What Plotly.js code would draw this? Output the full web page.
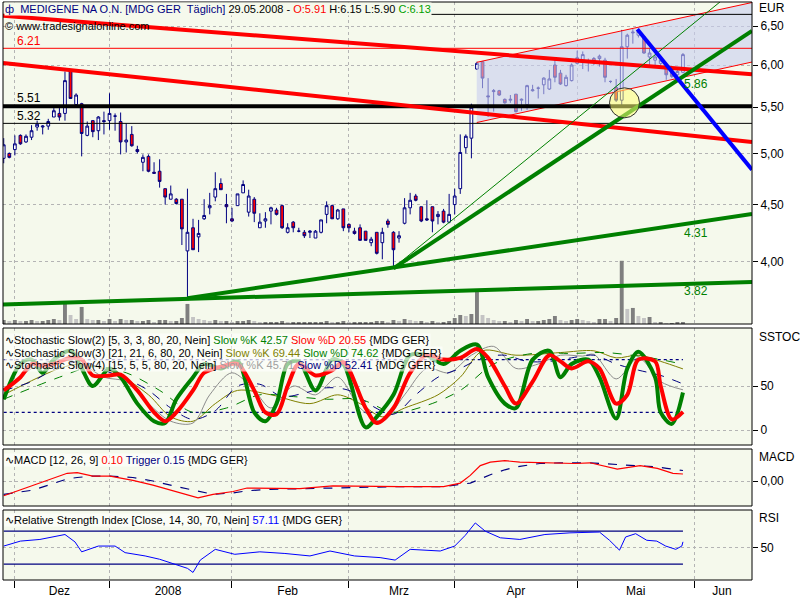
<!DOCTYPE html>
<html><head><meta charset="utf-8">
<script src="https://cdn.plot.ly/plotly-3.0.1.min.js"></script>
<style>html,body{margin:0;padding:0;background:#fff}#chart{width:800px;height:600px}</style>
</head><body><div id="chart"></div>
<script>
// ---------- price data (daily, 29.11.2007 .. 29.05.2008), index = trading day ----------
const open  = [4.95,5.00,5.04,5.19,5.12,5.17,5.28,5.28,5.29,5.39,5.43,5.43,5.93,5.53,5.54,5.19,5.35,5.24,5.35,5.35,5.40,5.34,5.12,5.20,5.04,4.91,4.97,4.81,4.82,4.65,4.55,4.55,4.55,4.09,4.29,4.21,4.37,4.47,4.57,4.70,4.50,4.37,4.49,4.61,4.43,4.55,4.29,4.35,4.44,4.45,4.49,4.25,4.34,4.26,4.25,4.25,4.20,4.25,4.41,4.49,4.37,4.46,4.32,4.26,4.29,4.26,4.16,4.25,4.16,4.35,4.25,4.20,4.33,4.47,4.58,4.48,4.37,4.48,4.39,4.44,4.34,4.50,4.65,5.06,5.16,5.95,6.04,5.63,5.68,5.69,5.59,5.58,5.65,5.58,5.53,5.69,5.72,5.76,5.71,6.00,5.90,5.75,5.81,6.02,6.06,6.05,6.08,6.08,6.06,5.80,5.73,5.58,6.23,6.41,6.38,6.36,6.10,6.06,6.02,5.98,5.92,5.88,5.91];
const high  = [5.16,5.01,5.19,5.20,5.20,5.30,5.35,5.30,5.37,5.49,5.49,5.92,5.95,5.66,5.55,5.34,5.35,5.40,5.45,5.66,5.43,5.44,5.32,5.29,5.08,4.99,4.99,4.91,4.94,4.65,4.68,4.56,4.55,4.65,4.37,4.36,4.55,4.61,4.81,4.75,4.60,4.47,4.60,4.73,4.64,4.57,4.42,4.43,4.48,4.47,4.50,4.33,4.35,4.29,4.27,4.27,4.27,4.36,4.53,4.50,4.46,4.46,4.33,4.29,4.32,4.26,4.21,4.25,4.29,4.37,4.26,4.26,4.56,4.61,4.60,4.48,4.54,4.48,4.44,4.46,4.60,4.65,5.20,5.20,5.54,6.04,6.05,5.84,5.71,5.70,5.60,5.64,5.65,5.60,5.76,5.76,5.74,5.85,5.94,6.08,5.94,5.88,6.02,6.18,6.17,6.08,6.10,6.13,6.09,5.81,5.83,6.45,6.40,6.46,6.46,6.37,6.21,6.13,6.10,6.00,5.94,5.94,6.15];
const low   = [4.90,4.95,4.98,5.09,5.11,5.14,5.24,5.20,5.25,5.39,5.35,5.35,5.60,5.51,4.97,5.18,5.17,5.14,5.20,5.25,5.24,4.99,5.01,5.07,5.00,4.82,4.81,4.80,4.66,4.50,4.55,4.50,4.14,3.71,4.10,4.08,4.36,4.41,4.53,4.64,4.33,4.34,4.49,4.61,4.39,4.34,4.29,4.29,4.32,4.40,4.28,4.24,4.25,4.25,4.20,4.20,4.20,4.24,4.33,4.37,4.36,4.26,4.25,4.23,4.18,4.18,4.13,4.06,4.02,4.29,3.95,4.16,4.32,4.41,4.53,4.34,4.35,4.25,4.32,4.33,4.33,4.41,4.60,5.00,4.95,5.94,5.72,5.39,5.45,5.63,5.54,5.55,5.44,5.46,5.47,5.68,5.60,5.65,5.70,5.79,5.76,5.74,5.80,6.01,5.95,5.92,6.00,5.98,5.79,5.78,5.56,5.51,6.08,6.27,6.35,6.14,6.00,6.00,5.99,5.82,5.84,5.85,5.90];
const close = [5.09,4.96,5.10,5.10,5.18,5.24,5.31,5.29,5.34,5.46,5.39,5.81,5.60,5.64,5.21,5.29,5.23,5.39,5.34,5.43,5.40,5.12,5.14,5.08,5.02,4.96,4.82,4.80,4.72,4.57,4.60,4.51,4.28,4.25,4.10,4.24,4.40,4.49,4.65,4.64,4.48,4.35,4.60,4.69,4.58,4.42,4.34,4.37,4.47,4.41,4.29,4.29,4.29,4.26,4.22,4.26,4.26,4.36,4.49,4.37,4.45,4.29,4.29,4.24,4.18,4.18,4.19,4.07,4.25,4.32,4.10,4.22,4.47,4.54,4.54,4.35,4.36,4.35,4.41,4.34,4.41,4.58,5.01,5.18,5.50,6.02,5.84,5.62,5.69,5.64,5.55,5.59,5.45,5.59,5.75,5.70,5.72,5.84,5.83,5.85,5.77,5.85,6.00,6.09,6.13,6.05,6.04,6.11,5.85,5.80,5.58,6.23,6.38,6.42,6.43,6.15,6.15,6.10,6.06,5.88,5.86,5.92,6.13];
// volume, thousand shares
const volume = [12,9,12,9,9,12,9,9,12,15,12,63,27,15,51,15,12,12,9,15,9,15,12,12,9,9,12,6,12,12,9,9,18,60,21,15,12,9,12,9,9,6,9,9,12,9,6,6,6,6,9,6,6,6,6,6,6,6,9,6,6,9,6,6,6,6,6,9,9,6,12,9,15,12,9,9,6,9,6,6,9,18,27,24,30,102,27,18,12,9,9,6,12,9,15,9,9,12,15,24,12,9,12,15,12,9,6,15,15,9,18,189,45,48,24,18,21,6,6,3,3,6,6];

// ---------- axis categories ----------
const monthStartIdx = [2, 19, 41, 62, 81, 103, 124];
const monthLabelIdx = [10, 29.5, 51, 71, 92, 113.5, 129];
const monthLabels   = ['Dez', '2008', 'Feb', 'Mrz', 'Apr', 'Mai', 'Jun'];
const priceTicks    = [4.0, 4.5, 5.0, 5.5, 6.0, 6.5];
const priceTickText = ['4,00', '4,50', '5,00', '5,50', '6,00', '6,50'];

// ---------- drawing tools (trading-day index, EUR) ----------
const hLevelPrices = [6.66, 6.21, 5.51, 5.32];
const redA_x = [-0.13, 134.4],  redA_y = [6.642, 5.886];
const redB_x = [-0.13, 134.4],  redB_y = [6.025, 5.120];
const chanLow_x = [84.96, 134.4], chanLow_y = [5.329, 6.037];
const chanUp_x  = [84.96, 134.4], chanUp_y  = [6.033, 6.825];
const green1_x = [-0.13, 134.4], green1_y = [3.663, 3.836];
const green2_x = [33, 134.4],    green2_y = [3.71, 4.413];
const green3_x = [70, 134.4],    green3_y = [3.946, 6.436];
const green4_x = [70, 134.4],    green4_y = [3.95, 7.21];
const blue_x   = [113.8, 134.4], blue_y   = [6.458, 4.835];
const lineLabelVals = [5.86, 4.31, 3.82];
const circleIdx = [111.5], circlePrice = [5.55];

// ---------- indicators ----------
const st2K_x = [0,3,5,7,9,12,14,16,19,21,24,27,29,31,34,36,39,42,45,47,49,51,53,56,59,61,65,67,70,73,76,79,82,85,87,90,92,95,98,100,102,105,107,110,112,114,117,118,120,122];
const st2K   = [35,75,80,65,80,90,70,50,70,60,30,10,8,35,60,75,70,78,20,10,30,75,78,45,80,75,3,15,40,85,85,75,90,97,60,30,25,80,90,60,75,80,60,13,70,89,60,20,7,42.57];
const st2D_x = [0,3,5,7,9,12,14,16,19,21,24,27,29,31,34,36,39,42,45,47,49,51,53,56,59,61,65,67,70,73,76,79,82,85,87,90,92,95,98,100,102,105,107,110,112,114,117,118,120,122];
const st2D   = [45,60,75,73,75,82,80,62,62,63,45,20,10,20,45,65,72,75,45,20,18,50,75,62,68,77,25,8,25,65,85,80,82,92,82,50,30,55,85,78,70,78,70,30,40,80,78,50,12,20.55];
const st3K_x = [0,10,14,20,26,30,34,38,42,48,55,60,64,68,72,78,82,86,92,100,106,110,114,118,122];
const st3K   = [40,70,75,65,40,15,10,30,45,40,30,40,30,15,25,40,60,90,85,88,90,82,85,78,69.44];
const st3D_x = [0,10,16,22,28,34,40,46,52,58,64,70,76,82,88,95,102,108,114,118,122];
const st3D   = [35,60,72,65,45,20,25,40,38,35,35,20,28,45,75,87,87,88,84,80,74.62];
const st4K_x = [0,5,10,14,18,22,26,30,34,37,41,45,48,52,56,60,64,68,72,76,80,84,88,92,96,100,104,106,110,114,118,122];
const st4K   = [40,70,80,75,60,55,30,10,8,40,65,45,25,50,40,60,25,10,40,70,65,85,95,70,75,85,84,86,58,82,55,45.71];
const st4D_x = [0,5,10,14,18,22,26,30,34,38,42,46,50,54,58,62,66,70,74,78,82,86,90,94,98,102,106,110,114,118,122];
const st4D   = [45,55,72,78,68,58,45,25,12,22,50,52,38,42,48,45,28,18,40,60,70,82,85,78,78,82,85,75,68,62,52.41];
const stLevels = [80, 20];

const macd_x = [0,5.3,11.4,13.2,16,19.1,23.2,26.8,31.1,34.9,37.6,41.2,43.7,47.3,53.2,59.1,65.3,71.2,79,82,83.8,85.6,87.4,90,92.7,96.3,99.9,102.6,105.3,110.2,114.3,117.4,120.2,122];
const macd   = [-0.21,-0.06,0.11,0.12,0.07,0.07,0.01,-0.06,-0.16,-0.24,-0.19,-0.15,-0.10,-0.10,-0.11,-0.07,-0.08,-0.08,-0.08,-0.03,0.08,0.22,0.27,0.29,0.27,0.26,0.26,0.25,0.26,0.17,0.22,0.18,0.11,0.10];
const trig_x = [0,5.3,11.4,13.2,16,19.1,23.2,26.8,31.1,34.9,37.6,41.2,43.7,47.3,53.2,59.1,65.3,71.2,79,83.8,85.6,87.4,90,92.7,96.3,99.9,105.3,111.2,114.3,117.4,119.1,122];
const trig   = [-0.19,-0.13,0.03,0.05,0.07,0.07,0.05,0.00,-0.08,-0.15,-0.19,-0.17,-0.14,-0.12,-0.11,-0.09,-0.08,-0.08,-0.08,-0.03,0.03,0.09,0.16,0.21,0.25,0.26,0.26,0.23,0.22,0.20,0.18,0.15];

const rsi_x = [0,3,6.5,11,12.8,14,17,20,21.8,25.4,28,31.7,33,34,35.3,38,41.5,46,50.5,55,58.6,63,67.6,70.3,73,78.4,81,82.9,84.7,86.5,89.2,92.7,97.2,101.7,105.3,107,108.8,110.6,111.7,113.5,115.5,117.3,118.9,120.7,121.8,122];
const rsi   = [52,58,60,66,57,45,52,52,44,40,36,28,25,20,35,48,42,45,43,40,46,40,38,35,48,46,52,65,80,70,62,60,66,68,69,69,59,47,63,67,59,58,52,48,52,57.11];
const rsiLevels = [70, 30];

// ---------- layout helpers ----------
const PB = 580, PH = 578;             // plot bottom / height in page px
const f = y => (PB - y) / PH;        // page y -> paper
const domMain = [f(324), 1], domSt = [f(445), f(328)], domMacd = [f(506), f(449)], domRsi = [0, f(510)];
const BG = '#F5F9EC', GRID = '#B4B4B4';
const XR = [-0.13, 134.4];
const FONT = 'Liberation Sans, Arial, sans-serif';
const FS = 11, TFS = 12;
const days = close.map((_, i) => i);
const span = [XR[0], XR[1]];
const L = Math.log10;

const traces = [];
// volume
traces.push({type:'bar', x:days, y:volume, xaxis:'x', yaxis:'y', width:0.7,
  marker:{color: volume.map((v,i)=> (i===0 || v>=volume[i-1]) ? '#7F7F7F' : '#C4C4C4'), line:{width:0}}, hoverinfo:'skip'});
// regression channel
traces.push({type:'scatter', mode:'lines', x:chanLow_x, y:chanLow_y, xaxis:'x', yaxis:'y5', line:{color:'#FF0000', width:1}, hoverinfo:'skip'});
traces.push({type:'scatter', mode:'lines', x:chanUp_x, y:chanUp_y, xaxis:'x', yaxis:'y5', line:{color:'#FF0000', width:1}, fill:'tonexty', fillcolor:'rgba(200,205,240,0.6)', hoverinfo:'skip'});
// horizontal levels
const hStyles = [{c:'#000000',w:1},{c:'#FF0000',w:1},{c:'#000000',w:4},{c:'#000000',w:1}];
hLevelPrices.forEach((p,k)=> traces.push({type:'scatter', mode:'lines', x:span, y:[p,p], xaxis:'x', yaxis:'y5', line:{color:hStyles[k].c, width:hStyles[k].w}, hoverinfo:'skip'}));
// trend lines
const tl = (x,y,c,w) => traces.push({type:'scatter', mode:'lines', x, y, xaxis:'x', yaxis:'y5', line:{color:c, width:w}, hoverinfo:'skip'});
tl(redA_x, redA_y, '#FF0000', 4);
tl(redB_x, redB_y, '#FF0000', 4);
tl(green1_x, green1_y, '#008000', 4);
tl(green2_x, green2_y, '#008000', 4);
tl(green4_x, green4_y, '#008000', 1);
tl(green3_x, green3_y, '#008000', 4);
tl(blue_x, blue_y, '#0000FF', 4);
// candles
traces.push({type:'candlestick', x:days, open, high, low, close, xaxis:'x', yaxis:'y5', whiskerwidth:0,
  increasing:{line:{color:'#000080', width:1}, fillcolor:'#FFFFFF'},
  decreasing:{line:{color:'#000080', width:1}, fillcolor:'#FF0000'}, hoverinfo:'skip'});
// highlight circle
traces.push({type:'scatter', mode:'markers', x:circleIdx, y:circlePrice, xaxis:'x', yaxis:'y5',
  marker:{size:30, color:'rgba(255,255,120,0.55)', line:{color:'#303030', width:1}}, hoverinfo:'skip'});

// stochastics
const ln = (x,y,ax,ay,c,w,dash,shape) => traces.push({type:'scatter', mode:'lines', x, y, xaxis:ax, yaxis:ay,
  line:{color:c, width:w, dash:dash||'solid', shape:shape||'linear', smoothing:0.9}, hoverinfo:'skip'});
stLevels.forEach(v => ln([0,122],[v,v],'x2','y2','#000080',1.2,'dot'));
ln(st3K_x, st3K, 'x2','y2','#808000',1,'solid','spline');
ln(st3D_x, st3D, 'x2','y2','#008000',1,'dash','spline');
ln(st4K_x, st4K, 'x2','y2','#8C8C8C',1,'solid','spline');
ln(st4D_x, st4D, 'x2','y2','#000080',1,'dash','spline');
ln(st2K_x, st2K, 'x2','y2','#008000',4,'solid','spline');
ln(st2D_x, st2D, 'x2','y2','#FF0000',4,'solid','spline');
// MACD
ln(trig_x, trig, 'x3','y3','#000080',1.2,'dash');
ln(macd_x, macd, 'x3','y3','#FF0000',1.2);
// RSI
rsiLevels.forEach(v => ln([0,122],[v,v],'x4','y4','#000080',1.2));
ln(rsi_x, rsi, 'x4','y4','#0000FF',1);
// dummy for month label axis
traces.push({type:'scatter', mode:'markers', x:[monthLabelIdx[0]], y:[50], xaxis:'x5', yaxis:'y4', marker:{opacity:0}, hoverinfo:'skip'});

const xBase = {range:XR, showgrid:true, gridcolor:GRID, griddash:'dot', gridwidth:1, tickvals:monthStartIdx,
  showticklabels:false, ticks:'', zeroline:false, showline:false, fixedrange:true};
const yBase = {side:'right', ticks:'outside', ticklen:5, tickcolor:'#000', showgrid:true, gridcolor:GRID, griddash:'dot',
  zeroline:false, showline:false, fixedrange:true, tickfont:{size:TFS, color:'#000', family:FONT}};

const last = a => a[a.length-1];
const n = close.length - 1;
const col = (c, t) => `<span style="color:${c}">${t}</span>`;
const ann = [];
const addText = (text, x, y, opts) => ann.push(Object.assign({text, x, y, xref:'paper', yref:'paper', xanchor:'left', yanchor:'middle', showarrow:false, font:{size:FS, family:FONT, color:'#000'}}, opts||{}));
const LBG = 'rgba(255,255,255,0.6)';
const rowOpts = {bgcolor:LBG, borderpad:0, height:12, valign:'middle'};

addText(col('#000080','ф  MEDIGENE NA O.N. [MDG GER  Täglich] ') + '29.05.2008 - ' + col('#FF0000','O:'+open[n].toFixed(2)) + ' H:' + high[n].toFixed(2) + ' L:' + low[n].toFixed(2) + ' ' + col('#00A000','C:'+close[n].toFixed(2)), 0.001, f(9), {bgcolor:BG, borderpad:0, height:12});
addText('© www.tradesignalonline.com', 0.0, f(26));
addText('∿Stochastic Slow(2) [5, 3, 3, 80, 20, Nein] ' + col('#008000','Slow %K '+last(st2K).toFixed(2)) + ' ' + col('#FF0000','Slow %D '+last(st2D).toFixed(2)) + ' {MDG GER}', 0.001, f(339.5), rowOpts);
addText('∿Stochastic Slow(3) [21, 21, 6, 80, 20, Nein] ' + col('#808000','Slow %K '+last(st3K).toFixed(2)) + ' ' + col('#008000','Slow %D '+last(st3D).toFixed(2)) + ' {MDG GER}', 0.001, f(352.5), rowOpts);
addText('∿Stochastic Slow(4) [15, 5, 5, 80, 20, Nein] ' + col('#A0A0A0','Slow %K '+last(st4K).toFixed(2)) + ' ' + col('#000080','Slow %D '+last(st4D).toFixed(2)) + ' {MDG GER}', 0.001, f(365.5), rowOpts);
addText('∿MACD [12, 26, 9] ' + col('#FF0000', last(macd).toFixed(2)) + ' ' + col('#000080','Trigger '+last(trig).toFixed(2)) + ' {MDG GER}', 0.001, f(460), rowOpts);
addText('∿Relative Strength Index [Close, 14, 30, 70, Nein] ' + col('#0000FF', last(rsi).toFixed(2)) + ' {MDG GER}', 0.001, f(520), rowOpts);
// panel titles right
[['EUR',8],['SSTOC',337],['MACD',457],['RSI',518]].forEach(([t,y]) => addText(t, 1, f(y), {xshift:5, font:{size:TFS, family:FONT, color:'#000'}}));
// level labels (left)
[[6.21,'#FF0000',7],[5.51,'#000000',8],[5.32,'#000000',7]].forEach(([v,c,s]) =>
  ann.push({text:v.toFixed(2), x:0.016, xref:'paper', y:L(v), yref:'y5', yshift:s, xanchor:'left', yanchor:'middle', showarrow:false, font:{size:TFS, family:FONT, color:c}}));
// line value labels (right, at last bar)
lineLabelVals.forEach((v,k) =>
  ann.push({text:v.toFixed(2), x:n - 0.2, xref:'x', y:L(v), yref:'y5', yshift:[-8,-8,-7][k], xanchor:'left', yanchor:'middle', showarrow:false, font:{size:TFS, family:FONT, color:'#008000'}}));

const shapes = [];
[domMain, domSt, domMacd, domRsi].forEach(d => {
  shapes.push({type:'rect', xref:'paper', yref:'paper', x0:0, x1:1, y0:d[0], y1:d[1], fillcolor:BG, line:{width:0}, layer:'below'});
  shapes.push({type:'rect', xref:'paper', yref:'paper', x0:0, x1:1, y0:d[0], y1:d[1], fillcolor:'rgba(0,0,0,0)', line:{color:'#000', width:1}, layer:'above'});
});

const layout = {
  width:800, height:600, margin:{l:3, r:48, t:2, b:20},
  paper_bgcolor:'#FFFFFF', plot_bgcolor:'#FFFFFF', showlegend:false,
  font:{family:FONT, size:FS, color:'#000'},
  xaxis:  Object.assign({}, xBase, {anchor:'y', rangeslider:{visible:false}}),
  xaxis2: Object.assign({}, xBase, {anchor:'y2'}),
  xaxis3: Object.assign({}, xBase, {anchor:'y3'}),
  xaxis4: Object.assign({}, xBase, {anchor:'y4', ticks:'outside', ticklen:7, tickcolor:'#000'}),
  xaxis5: {range:XR, overlaying:'x4', anchor:'y4', side:'bottom', tickvals:monthLabelIdx, ticktext:monthLabels, ticks:'', showgrid:false,
           zeroline:false, showline:false, fixedrange:true, tickfont:{size:TFS, family:FONT, color:'#000'}, ticklabelstandoff:2},
  yaxis:  {domain:domMain, range:[0, 963], visible:false, fixedrange:true},
  yaxis5: Object.assign({}, yBase, {type:'log', overlaying:'y', anchor:'x', range:[L(3.518), L(6.832)], tickvals:priceTicks, ticktext:priceTickText}),
  yaxis2: Object.assign({}, yBase, {domain:domSt, anchor:'x2', range:[-17, 115.9], tickvals:[0,50], ticktext:['0','50']}),
  yaxis3: Object.assign({}, yBase, {domain:domMacd, anchor:'x3', range:[-0.357, 0.457], tickvals:[0], ticktext:['0,00']}),
  yaxis4: Object.assign({}, yBase, {domain:domRsi, anchor:'x4', range:[10.85, 95.7], tickvals:[50], ticktext:['50']}),
  shapes, annotations:ann
};
Plotly.newPlot('chart', traces, layout, {staticPlot:true, displayModeBar:false});
</script></body></html>
